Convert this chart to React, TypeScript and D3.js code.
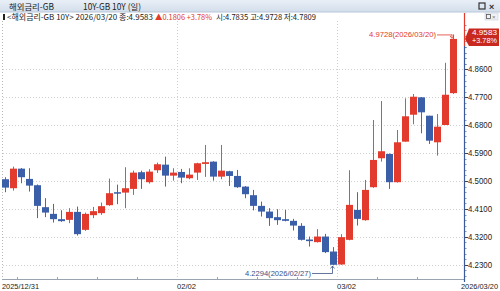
import React from "react";
import * as d3 from "d3";

const dates = [
  "2025/12/31","2026/01/02","2026/01/05","2026/01/06","2026/01/07","2026/01/08","2026/01/09",
  "2026/01/12","2026/01/13","2026/01/14","2026/01/15","2026/01/16",
  "2026/01/19","2026/01/20","2026/01/21","2026/01/22","2026/01/23",
  "2026/01/26","2026/01/27","2026/01/28","2026/01/29","2026/01/30",
  "2026/02/02","2026/02/03","2026/02/04","2026/02/05","2026/02/06",
  "2026/02/09","2026/02/10","2026/02/11","2026/02/12","2026/02/13",
  "2026/02/16","2026/02/17","2026/02/18","2026/02/19","2026/02/20",
  "2026/02/23","2026/02/24","2026/02/25","2026/02/26","2026/02/27",
  "2026/03/02","2026/03/03","2026/03/04","2026/03/05","2026/03/06",
  "2026/03/09","2026/03/10","2026/03/11","2026/03/12","2026/03/13",
  "2026/03/16","2026/03/17","2026/03/18","2026/03/19","2026/03/20",
];

const opens = [
  4.5059,4.4769,4.5400,4.5069,4.4866,4.4158,4.3942,
  4.3771,4.3749,4.4006,4.3427,4.3900,
  4.3965,4.4222,4.4641,4.4628,4.4747,
  4.5285,4.4963,4.5349,4.5529,4.5175,
  4.5294,4.5091,4.5272,4.5552,4.5626,
  4.5143,4.5317,4.5165,4.4821,4.4544,
  4.4200,4.4016,4.3836,4.3771,4.3717,
  4.3556,4.3115,4.3031,4.3211,4.2728,
  4.2310,4.3105,4.4071,4.3739,4.4802,
  4.5735,4.5874,4.4963,4.6270,4.7139,
  4.7699,4.7107,4.6250,4.6807,4.7835,
];
const highs = [
  4.5124,4.5465,4.5420,4.5413,4.4890,4.4447,4.4264,
  4.4061,4.4126,4.4177,4.3984,4.4167,
  4.4306,4.5079,4.4885,4.5446,4.5336,
  4.5336,4.5381,4.5594,4.5787,4.5413,
  4.5391,4.5413,4.5590,4.6164,4.5640,
  4.6164,4.5330,4.5359,4.4840,4.4715,
  4.4338,4.4126,4.4093,4.4071,4.3781,
  4.3643,4.3211,4.3449,4.3298,4.2870,
  4.3288,4.5349,4.4641,4.5037,4.6968,
  4.7580,4.5890,4.6646,4.7667,4.7806,
  4.7710,4.7107,4.7162,4.8813,4.9728,
];
const lows = [
  4.4641,4.4692,4.4930,4.4660,4.3804,4.3836,4.3662,
  4.3684,4.3643,4.3243,4.3395,4.3804,
  4.3910,4.4200,4.4254,4.4126,4.4554,
  4.4747,4.4918,4.5262,4.4821,4.5014,
  4.4930,4.5059,4.5037,4.5133,4.5014,
  4.5059,4.4843,4.4779,4.4447,4.4055,
  4.3855,4.3556,4.3588,4.3700,4.3404,
  4.3082,4.2889,4.3018,4.2677,4.2294,
  4.2300,4.3090,4.3565,4.3720,4.4780,
  4.5626,4.4747,4.4950,4.6270,4.6830,
  4.6540,4.6196,4.5819,4.6807,4.7809,
];
const closes = [
  4.4789,4.5400,4.5124,4.4853,4.4200,4.3984,4.3771,
  4.3707,4.4006,4.3288,4.3942,4.4029,
  4.4190,4.4608,4.4596,4.4769,4.5272,
  4.5059,4.5304,4.5542,4.5175,4.5272,
  4.5111,4.5207,4.5574,4.5607,4.5143,
  4.5336,4.5165,4.4802,4.4576,4.4200,
  4.4016,4.3804,4.3739,4.3717,4.3565,
  4.3105,4.3063,4.3211,4.2709,4.2300,
  4.3192,4.4232,4.3781,4.4715,4.5681,
  4.5961,4.4963,4.6250,4.7088,4.7719,
  4.7216,4.6302,4.6753,4.7783,4.9583,
];

const yTicks = [4.23, 4.32, 4.41, 4.50, 4.59, 4.68, 4.77, 4.86];
const monthLabels = [
  { date: "2025/12/31", label: "2025/12/31" },
  { date: "2026/02/02", label: "02/02" },
  { date: "2026/03/02", label: "03/02" },
];
const weekStarts = [
  "2026/01/05","2026/01/12","2026/01/19","2026/01/26","2026/02/09",
  "2026/02/16","2026/02/23","2026/03/09","2026/03/16",
];

const RED = "#e23a2c";
const BLUE = "#3a5ea8";
const FONT = "'Liberation Sans', Arial, sans-serif";
const KFONT = "'Noto Sans CJK KR', 'Liberation Sans', sans-serif";

export default function App() {
  const W = 500, H = 291;
  const axisX = 464;
  const x = d3.scalePoint<string>().domain(dates).range([5, 453]);
  const y = d3.scaleLinear().domain([4.23, 4.86]).range([264.8, 69.4]);
  const bw = 6;

  const minorTicks: number[] = [];
  for (let i = 0; i < yTicks.length; i++) {
    for (let k = 1; k < 5; k++) {
      const v = yTicks[i] + (0.09 * k) / 5;
      if (y(v) > 14) minorTicks.push(v);
    }
  }
  [4.23 - 0.018, 4.23 - 0.036].forEach((v) => minorTicks.push(v));
  [4.878, 4.896, 4.914, 4.932, 4.95, 4.968, 4.986, 5.004].forEach((v) => minorTicks.push(v));

  const last = dates.length - 1;
  const hiIdx = d3.maxIndex(highs);
  const loIdx = d3.minIndex(lows);
  const hx = x(dates[hiIdx])!;
  const hy = y(highs[hiIdx]);
  const lx = x(dates[loIdx])!;
  const ly = y(lows[loIdx]);
  const cy = y(closes[last]);

  return (
    <svg width={W} height={H} style={{ position: "fixed", left: 0, top: 0, background: "#fff" }}>
      <defs>
        <linearGradient id="tb" x1="0" y1="0" x2="0" y2="1">
          <stop offset="0" stopColor="#e9eff7" />
          <stop offset="1" stopColor="#d3deeb" />
        </linearGradient>
      </defs>
      {/* title bar */}
      <rect x={0} y={0} width={W} height={12} fill="url(#tb)" />
      <line x1={0} x2={W} y1={12} y2={12} stroke="#b8c6d8" />
      <text x={9} y={9.5} fontFamily={KFONT} fontSize={8.5} fill="#222" textLength={45} lengthAdjust="spacingAndGlyphs">해외금리-GB</text>
      <text x={83} y={9.5} fontFamily={KFONT} fontSize={8.5} fill="#222" textLength={58} lengthAdjust="spacingAndGlyphs">10Y-GB 10Y (일)</text>
      <rect x={479} y={3} width={6} height={6} fill="none" stroke="#333" strokeWidth={1.2} />
      <text x={489} y={10} fontFamily={FONT} fontSize={9} fontWeight="bold" fill="#333">×</text>

      {/* info line */}
      <rect x={3} y={14} width={2} height={6} fill="#222" />
      <text x={7} y={19.5} fontFamily={KFONT} fontSize={8} fill="#222" textLength={146} lengthAdjust="spacingAndGlyphs">{"<해외금리-GB 10Y> 2026/03/20 종:4.9583"}</text>
      <text x={155} y={19.5} fontFamily={KFONT} fontSize={8} fill={RED} textLength={57} lengthAdjust="spacingAndGlyphs">▲0.1806 +3.78%</text>
      <text x={216} y={19.5} fontFamily={KFONT} fontSize={8} fill="#222" textLength={100} lengthAdjust="spacingAndGlyphs">시:4.7835 고:4.9728 저:4.7809</text>
      <rect x={485} y={13} width={13} height={7} fill="#eef1f5" stroke="#c5ccd6" strokeWidth={0.6} />
      <rect x={486.5} y={14.5} width={4} height={4} fill="none" stroke="#555" strokeWidth={0.8} />
      <text x={492} y={19} fontFamily={FONT} fontSize={6} fill="#777">×</text>

      {/* grid */}
      <line x1={2.5} x2={2.5} y1={21} y2={280} stroke="#b8b8b8" strokeDasharray="1,2" />
      {yTicks.map((t) => (
        <line key={"g" + t} x1={3} x2={axisX} y1={Math.round(y(t)) + 0.5} y2={Math.round(y(t)) + 0.5} stroke="#cfcfcf" strokeDasharray="1,2" />
      ))}
      {monthLabels.slice(1).map((m) => (
        <line key={"v" + m.date} x1={x(m.date)! - 3.5} x2={x(m.date)! - 3.5} y1={21} y2={280} stroke="#cfcfcf" strokeDasharray="1,2" />
      ))}

      {/* candles */}
      {dates.map((d, i) => {
        const up = closes[i] >= opens[i];
        const c = up ? RED : BLUE;
        const cx = x(d)!;
        const top = y(Math.max(opens[i], closes[i]));
        const bot = y(Math.min(opens[i], closes[i]));
        return (
          <g key={d}>
            <line x1={Math.round(cx) + 0.5} x2={Math.round(cx) + 0.5} y1={y(highs[i])} y2={y(lows[i])} stroke={up ? "#c55a50" : "#56688f"} strokeWidth={1} />
            <rect x={Math.round(cx) + 0.5 - bw / 2 - 0.5} y={top} width={bw + 1} height={Math.max(1.5, bot - top)} fill={c} />
          </g>
        );
      })}

      {/* high annotation */}
      <text x={hx - 17} y={hy + 3} textAnchor="end" fontFamily={FONT} fontSize={8} fill={RED} textLength={67} lengthAdjust="spacingAndGlyphs">{`${highs[hiIdx].toFixed(4)}(${dates[hiIdx]})`}</text>
      <line x1={hx - 16} x2={hx - 1} y1={hy + 0.5} y2={hy + 0.5} stroke={RED} strokeWidth={0.8} />
      <line x1={hx - 1} x2={hx - 1} y1={hy} y2={hy + 3} stroke={RED} strokeWidth={0.8} />
      <path d={`M${hx - 3},${hy + 1.5} L${hx - 1},${hy + 4} L${hx + 1},${hy + 1.5}`} fill="none" stroke={RED} strokeWidth={0.8} />

      {/* low annotation */}
      <text x={lx - 22} y={ly + 11} textAnchor="end" fontFamily={FONT} fontSize={8} fill="#3b4f86" textLength={66} lengthAdjust="spacingAndGlyphs">{`${lows[loIdx].toFixed(4)}(${dates[loIdx]})`}</text>
      <line x1={lx - 21} x2={lx - 0.5} y1={ly + 8.5} y2={ly + 8.5} stroke="#3b4f86" strokeWidth={0.8} />
      <line x1={lx - 0.5} x2={lx - 0.5} y1={ly + 1} y2={ly + 8.5} stroke="#3b4f86" strokeWidth={0.8} />
      <path d={`M${lx - 2.5},${ly + 3.5} L${lx - 0.5},${ly + 1} L${lx + 1.5},${ly + 3.5}`} fill="none" stroke="#3b4f86" strokeWidth={0.8} />

      {/* x axis */}
      <line x1={2} x2={axisX} y1={279.5} y2={279.5} stroke="#9aa3b0" />
      {weekStarts.map((d) => (
        <line key={"t" + d} x1={x(d)! - 3.5} x2={x(d)! - 3.5} y1={277} y2={279.5} stroke="#9aa3b0" />
      ))}
      {monthLabels.map((m, i) => (
        <text key={"m" + m.date} x={i === 0 ? 2 : x(m.date)! - 4} y={288.5} fontFamily={FONT} fontSize={8} fill="#222" textLength={i === 0 ? 37 : 19} lengthAdjust="spacingAndGlyphs">{m.label}</text>
      ))}
      <text x={498} y={288.5} textAnchor="end" fontFamily={FONT} fontSize={8} fill="#222" textLength={37} lengthAdjust="spacingAndGlyphs">{dates[last]}</text>

      {/* y axis */}
      <line x1={axisX + 0.5} x2={axisX + 0.5} y1={13} y2={46} stroke={RED} strokeWidth={1.2} />
      <line x1={axisX + 0.5} x2={axisX + 0.5} y1={46} y2={282} stroke="#3a5a9c" strokeWidth={1.2} />
      {minorTicks.map((t, i) => (
        <line key={"mt" + i} x1={axisX + 1} x2={axisX + 2.5} y1={Math.round(y(t)) + 0.5} y2={Math.round(y(t)) + 0.5} stroke="#6a7a98" strokeWidth={0.8} />
      ))}
      {yTicks.map((t) => (
        <g key={"yt" + t}>
          <line x1={axisX + 1} x2={axisX + 4} y1={Math.round(y(t)) + 0.5} y2={Math.round(y(t)) + 0.5} stroke="#444" />
          <text x={axisX + 4} y={y(t) + 3} fontFamily={FONT} fontSize={8.5} fill="#222" textLength={24} lengthAdjust="spacingAndGlyphs">{t.toFixed(4)}</text>
        </g>
      ))}

      {/* current price tag */}
      <path d={`M${axisX + 1},${cy} L${axisX + 5},${cy - 10.5} L${W - 1},${cy - 10.5} L${W - 1},${cy + 7} L${axisX + 5},${cy + 7} Z`} fill="#c8281e" />
      <text x={W - 3} y={cy - 3.5} textAnchor="end" fontFamily={FONT} fontSize={7} fill="#fff" textLength={25} lengthAdjust="spacingAndGlyphs">{closes[last].toFixed(4)}</text>
      <text x={W - 3} y={cy + 4.5} textAnchor="end" fontFamily={FONT} fontSize={7} fill="#fff" textLength={25} lengthAdjust="spacingAndGlyphs">+3.78%</text>
    </svg>
  );
}
